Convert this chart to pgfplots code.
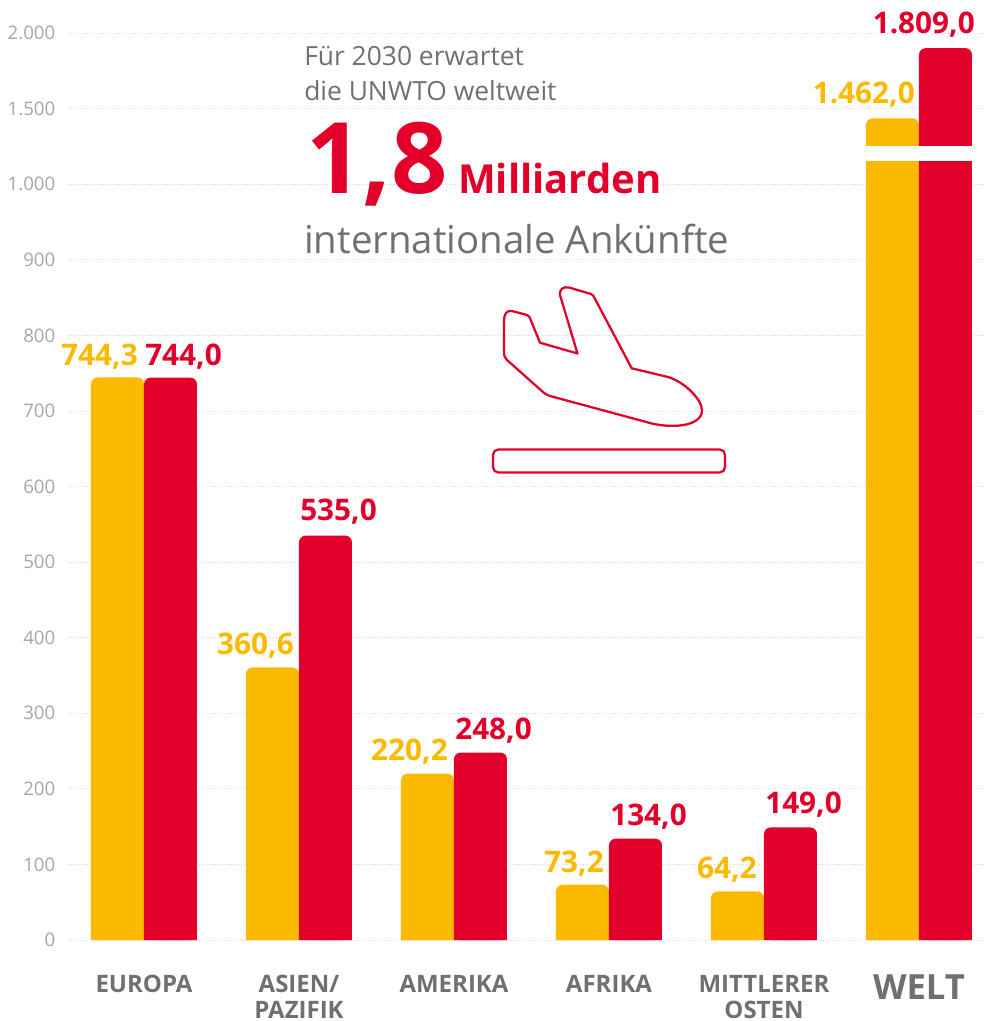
\documentclass[border=0pt]{standalone}
\usepackage{pgfplots}
\pgfplotsset{compat=1.18}
\usepackage{pgfplotstable}
\usepackage{fontspec}
\setmainfont{Open Sans}
\definecolor{gelb}{HTML}{FBBA00}
\definecolor{rot}{HTML}{E2002A}
\definecolor{txt}{HTML}{707070}
\definecolor{tick}{HTML}{A6A6A6}
\definecolor{grid}{HTML}{D2D2D2}
\newcommand{\fs}[1]{\fontsize{#1}{20}\selectfont}
% Values; the two WELT bars are plotted at their height on the broken axis
% (1.462 -> 1087, 1.809 -> 1180; 1.500 sits at 1100, 2.000 at 1200).
\pgfplotstableread{
x a b
0 744.3 744.0
1 360.6 535.0
2 220.2 248.0
3 73.2 134.0
4 64.2 149.0
5 1087 1180
}\datatab
\pgfplotstableread{
x a
0 10
1 10
2 10
3 10
4 10
5 10
}\basetab
\begin{document}
\begin{tikzpicture}
\begin{axis}[
  at={(51pt,-705pt)},anchor=south west,
  scale only axis,width=687pt,height=680.25pt,
  xmin=-0.4903,xmax=5.4194,ymin=0,ymax=1200,
  axis line style={draw=none},
  tick style={draw=none},
  xtick={0,1,2,3,4,5},
  xticklabels={EUROPA,ASIEN/\\PAZIFIK,AMERIKA,AFRIKA,MITTLERER\\OSTEN,{\raisebox{-2pt}{\fs{26}WELT}}},
  x tick label style={align=center,font=\fs{18}\bfseries,text=txt,anchor=north,inner sep=0pt,yshift=-26pt},
  ytick={0,100,200,300,400,500,600,700,800,900,1000,1100,1200},
  yticklabels={0,100,200,300,400,500,600,700,800,900,{1.000},{1.500},{2.000}},
  y tick label style={font=\fs{14},text=tick,xshift=-6pt,/pgf/number format/assume math mode=true},
  ymajorgrids,
  grid style={dotted,draw=grid,line width=0.6pt},
  axis on top=false,
]
\addplot[ybar,bar width=39.75pt,bar shift=-19.875pt,fill=gelb,draw=none,rounded corners=5pt] table[x=x,y=a]{\datatab};
\addplot[ybar,bar width=39.75pt,bar shift=19.875pt,fill=rot,draw=none,rounded corners=5pt] table[x=x,y=b]{\datatab};
\addplot[ybar,bar width=39.75pt,bar shift=-19.875pt,fill=gelb,draw=none] table[x=x,y=a]{\basetab};
\addplot[ybar,bar width=39.75pt,bar shift=19.875pt,fill=rot,draw=none] table[x=x,y=a]{\basetab};
\end{axis}
\begin{scope}[x=0.75pt,y=-0.75pt]
% break in the WELT bars
\fill[white] (866,146) rectangle (972,161);
% value labels
\begin{scope}[every node/.style={font=\fs{22.3}\bfseries,inner sep=0pt}]
\node[anchor=base east,text=gelb] at (138,365) {744,3};
\node[anchor=base west,text=rot] at (145,365) {744,0};
\node[anchor=base east,text=gelb] at (294,654) {360,6};
\node[anchor=base west,text=rot] at (300,520) {535,0};
\node[anchor=base east,text=gelb] at (448,760) {220,2};
\node[anchor=base west,text=rot] at (455,739) {248,0};
\node[anchor=base east,text=gelb] at (604,872) {73,2};
\node[anchor=base west,text=rot] at (610,825) {134,0};
\node[anchor=base east,text=gelb] at (757,878) {64,2};
\node[anchor=base west,text=rot] at (765,813) {149,0};
\node[anchor=base east,text=gelb] at (915,103) {1.462,0};
\node[anchor=base east,text=rot] at (975,33) {1.809,0};
\end{scope}
% headline
\begin{scope}[every node/.style={inner sep=0pt,anchor=base west}]
\node[text=txt,font=\fs{19.8}] at (304,65) {Für 2030 erwartet};
\node[text=txt,font=\fs{19.8}] at (304,100) {die UNWTO weltweit};
\node[text=rot,font=\fs{74}\bfseries] at (306,193) {1,8};
\node[text=rot,font=\fs{30}\bfseries] at (458,193) {Milliarden};
\node[text=txt,font=\fs{28.8}] at (304,253) {internationale Ankünfte};
\end{scope}
% aeroplane
\draw[rot,line width=1.7pt,line join=round]
 (504,320) -- (504,352) .. controls (504,356) and (505,358) .. (507,360)
 -- (543,392) .. controls (545,394) and (547,395) .. (550,396)
 -- (650,423) .. controls (668,428) and (702,428) .. (702,410)
 .. controls (702,400) and (685,382) .. (668,377)
 -- (631.7,368.3) -- (593.5,296) .. controls (593,295) and (592,295) .. (591,294)
 -- (569,287.5) .. controls (563,286) and (559,290) .. (560,295)
 -- (577.5,353.5) -- (540,342.7) -- (529.5,317) .. controls (529,316) and (528,315.5) .. (527,315)
 -- (512,311) .. controls (507,310) and (504,314) .. (504,320) -- cycle;
\draw[rot,line width=1.7pt,rounded corners=4pt] (493,449.5) rectangle (725,472.5);
\pgfresetboundingbox
\path[use as bounding box] (0,0) rectangle (984,1021);
\end{scope}
\end{tikzpicture}
\end{document}
